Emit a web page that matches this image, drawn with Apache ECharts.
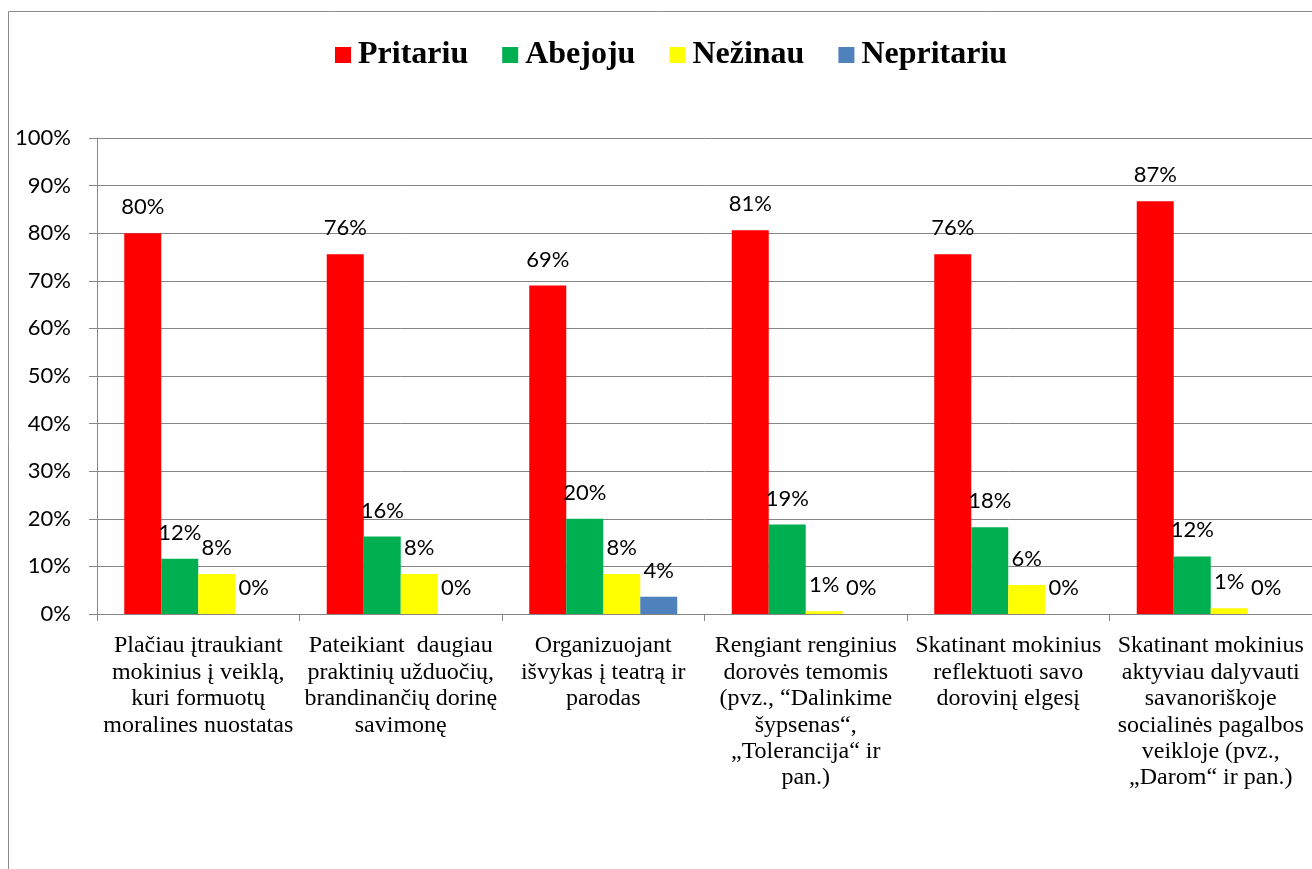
<!DOCTYPE html>
<html>
<head>
<meta charset="utf-8">
<style>
  html, body { margin: 0; padding: 0; background: #fff; }
  #chart { width: 1312px; height: 869px; }
</style>
<script src="https://cdn.jsdelivr.net/npm/echarts@6/dist/echarts.min.js"></script>
</head>
<body>
<div id="chart"></div>
<script>
// kategorijos (x ašis)
var categories = [
  'Plačiau įtraukiant\nmokinius į veiklą,\nkuri formuotų\nmoralines nuostatas',
  'Pateikiant  daugiau\npraktinių užduočių,\nbrandinančių dorinę\nsavimonę',
  'Organizuojant\nišvykas į teatrą ir\nparodas',
  'Rengiant renginius\ndorovės temomis\n(pvz., \u201CDalinkime\nšypsenas\u201C,\n\u201ETolerancija\u201C ir\npan.)',
  'Skatinant mokinius\nreflektuoti savo\ndorovinį elgesį',
  'Skatinant mokinius\naktyviau dalyvauti\nsavanoriškoje\nsocialinės pagalbos\nveikloje (pvz.,\n\u201EDarom\u201C ir pan.)'
]
var seriesNames = ['Pritariu', 'Abejoju', 'Nežinau', 'Nepritariu']
var pritariu = [80.0, 75.6, 69.0, 80.6, 75.6, 86.7]
var abejoju = [11.6, 16.3, 20.0, 18.8, 18.2, 12.1]
var nezinau = [8.4, 8.4, 8.4, 0.6, 6.1, 1.2]
var nepritariu = [0, 0, 3.6, 0, 0, 0]
var yTicks = [0, 10, 20, 30, 40, 50, 60, 70, 80, 90, 100]

var colors = ['#FF0000', '#00B050', '#FFFF00', '#4F81BD']
var gridGray = '#868686'

function makeSeries(name, data, color) {
  return {
    name: name,
    type: 'bar',
    data: data,
    barWidth: 37,
    barGap: '0%',
    itemStyle: { color: color },
    label: {
      show: true,
      position: 'top',
      distance: 15,
      color: '#000',
      fontFamily: 'Lato',
      fontSize: 22,
      formatter: function (p) { return Math.round(p.value) + '%' }
    }
  }
}

var chart = echarts.init(document.getElementById('chart'))
var option = {
  backgroundColor: '#fff',
  animation: false,
  graphic: [{
    type: 'rect',
    shape: { x: 8.5, y: 11.5, width: 1400, height: 1000 },
    style: { fill: 'none', stroke: '#8c8c8c', lineWidth: 1 },
    silent: true
  }],
  legend: {
    left: 335,
    top: 39,
    padding: 0,
    itemWidth: 16,
    itemHeight: 16,
    itemGap: 34,
    icon: 'rect',
    data: seriesNames,
    textStyle: {
      fontFamily: 'Liberation Serif',
      fontWeight: 'bold',
      fontSize: 32,
      color: '#000',
      padding: [0, 0, 0, 2]
    }
  },
  grid: {
    left: 97,
    right: -8,
    top: 138,
    bottom: 255
  },
  xAxis: {
    type: 'category',
    data: categories,
    axisLine: { lineStyle: { color: gridGray, width: 1 } },
    axisTick: { show: true, length: 7, lineStyle: { color: gridGray } },
    axisLabel: {
      interval: 0,
      margin: 19,
      color: '#000',
      fontFamily: 'Liberation Serif',
      fontSize: 24,
      lineHeight: 26.4,
      align: 'center'
    }
  },
  yAxis: {
    type: 'value',
    min: yTicks[0],
    max: yTicks[yTicks.length - 1],
    interval: 10,
    axisLine: { show: true, lineStyle: { color: gridGray, width: 1 } },
    axisTick: { show: true, length: 8, lineStyle: { color: gridGray } },
    splitLine: { show: true, lineStyle: { color: gridGray, width: 1 } },
    axisLabel: {
      margin: 26,
      color: '#000',
      fontFamily: 'Lato',
      fontSize: 22,
      formatter: '{value}%'
    }
  },
  series: [
    makeSeries(seriesNames[0], pritariu, colors[0]),
    makeSeries(seriesNames[1], abejoju, colors[1]),
    makeSeries(seriesNames[2], nezinau, colors[2]),
    makeSeries(seriesNames[3], nepritariu, colors[3])
  ]
}
chart.setOption(option)
</script>
</body>
</html>
